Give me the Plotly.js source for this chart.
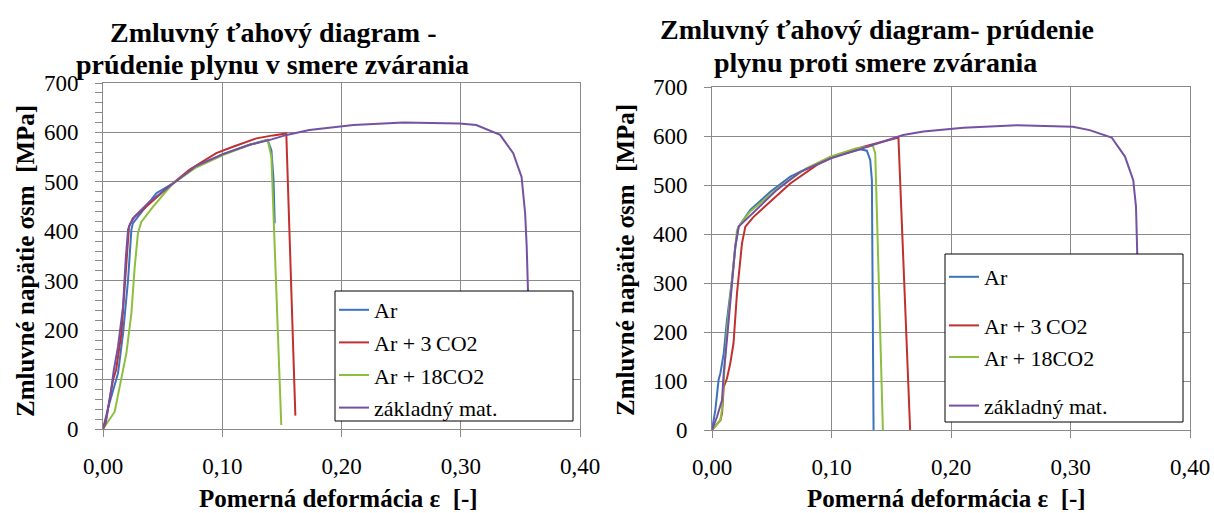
<!DOCTYPE html>
<html>
<head>
<meta charset="utf-8">
<script src="https://cdn.plot.ly/plotly-3.0.1.min.js"></script>
<style>html,body{margin:0;padding:0;background:#fff;}#chart{width:1214px;height:513px;}</style>
</head>
<body>
<div id="chart"></div>
<script>
// ---- data ----
const seriesNames = ["Ar", "Ar + 3\u2009CO2", "Ar + 18CO2", "základný mat."];
const xTicks = [0, 0.1, 0.2, 0.3, 0.4];
const yTicks = [0, 100, 200, 300, 400, 500, 600, 700];

// Left chart: prúdenie plynu v smere zvárania
const L_ar_x = [0, 0.0042, 0.0126, 0.0168, 0.021, 0.0238, 0.025, 0.0447, 0.0587, 0.078, 0.1006, 0.123, 0.138, 0.1412, 0.143, 0.144];
const L_ar_y = [0, 42, 113, 193, 301, 403, 416, 477, 497, 532, 556, 575, 585, 564, 504, 416];
const L_co3_x = [0, 0.0028, 0.0084, 0.011, 0.0154, 0.0196, 0.0218, 0.025, 0.039, 0.056, 0.0727, 0.095, 0.109, 0.1286, 0.1426, 0.1537, 0.1613];
const L_co3_y = [0, 22, 99, 120, 193, 328, 409, 426, 456, 492, 525, 558, 571, 588, 594, 598, 27];
const L_co18_x = [0, 0.0098, 0.0196, 0.0238, 0.0266, 0.0293, 0.0321, 0.0363, 0.042, 0.0587, 0.078, 0.1006, 0.123, 0.138, 0.1412, 0.1495];
const L_co18_y = [0, 35, 153, 234, 328, 396, 419, 433, 450, 497, 529, 554, 575, 585, 551, 8];
const L_base_x = [0, 0.0022, 0.007, 0.009, 0.0126, 0.0168, 0.019, 0.021, 0.0224, 0.0266, 0.039, 0.0587, 0.078, 0.1006, 0.123, 0.14, 0.154, 0.173, 0.21, 0.252, 0.299, 0.313, 0.333, 0.344, 0.351, 0.354, 0.3553, 0.3564, 0.357];
const L_base_y = [0, 11, 82, 118, 167, 247, 342, 403, 413, 430, 460, 497, 532, 556, 575, 585, 595, 605, 615, 620, 618, 615, 595, 558, 510, 436, 369, 278, 230];

// Right chart: prúdenie plynu proti smere zvárania
const R_ar_x = [0, 0.0028, 0.0055, 0.007, 0.0098, 0.0125, 0.0167, 0.0195, 0.0223, 0.0265, 0.032, 0.0488, 0.0655, 0.099, 0.124, 0.1296, 0.1324, 0.1338, 0.1352];
const R_ar_y = [0, 41, 102, 116, 156, 224, 306, 374, 415, 429, 449, 486, 517, 556, 573, 570, 551, 510, 0];
const R_co3_x = [0, 0.007, 0.0084, 0.0092, 0.0098, 0.0125, 0.0153, 0.018, 0.0209, 0.0251, 0.0279, 0.0348, 0.0488, 0.0655, 0.0878, 0.1045, 0.1268, 0.1435, 0.156, 0.1658];
const R_co3_y = [0, 20, 34, 68, 88, 105, 136, 177, 279, 381, 415, 435, 466, 503, 541, 561, 578, 588, 597, 0];
const R_co18_x = [0, 0.007, 0.0083, 0.0097, 0.0125, 0.0167, 0.0209, 0.0251, 0.032, 0.057, 0.079, 0.099, 0.121, 0.1346, 0.1366, 0.143];
const R_co18_y = [0, 20, 41, 96, 204, 306, 408, 425, 446, 497, 534, 558, 575, 580, 565, 0];
const R_base_x = [0, 0.0042, 0.0084, 0.0098, 0.0125, 0.0167, 0.0195, 0.0223, 0.0265, 0.0376, 0.0543, 0.0739, 0.099, 0.121, 0.1435, 0.16, 0.177, 0.2104, 0.255, 0.302, 0.316, 0.3344, 0.3456, 0.3525, 0.3548, 0.3559, 0.3565];
const R_base_y = [0, 27, 61, 116, 184, 293, 374, 415, 425, 452, 490, 527, 554, 571, 588, 602, 609, 617, 622, 619, 612, 597, 558, 510, 456, 361, 300];

const colors = ["#3D72BC", "#C0302E", "#8DBF3F", "#7451A3"];

// ---- helpers ----
const W = 1214, H = 513;
const px = v => v / W;
const py = v => 1 - v / H;
const SERIF = "Times New Roman, Liberation Serif, DejaVu Serif, Noto Serif, serif";
const GRID = "#8a8a8a";

function tr(x, y, i, xa, ya, leg, grp) {
  return {x: x, y: y, type: "scatter", mode: "lines", name: seriesNames[i],
          line: {color: colors[i], width: 2}, xaxis: xa, yaxis: ya,
          legend: leg, legendgroup: grp, hoverinfo: "x+y"};
}

const data = [
  tr(L_ar_x, L_ar_y, 0, "x", "y", "legend", "l0"),
  tr(L_co3_x, L_co3_y, 1, "x", "y", "legend", "l1"),
  tr(L_co18_x, L_co18_y, 2, "x", "y", "legend", "l2"),
  tr(L_base_x, L_base_y, 3, "x", "y", "legend", "l3"),
  tr(R_ar_x, R_ar_y, 0, "x2", "y2", "legend2", "r0"),
  tr(R_co3_x, R_co3_y, 1, "x2", "y2", "legend2", "r1"),
  tr(R_co18_x, R_co18_y, 2, "x2", "y2", "legend2", "r1"),
  tr(R_base_x, R_base_y, 3, "x2", "y2", "legend2", "r2")
];

function xax(dom, anchor) {
  return {domain: dom, anchor: anchor, range: [0, 0.4], tickvals: xTicks, tickformat: ".2f",
          showgrid: true, gridcolor: GRID, gridwidth: 1, zeroline: false,
          showline: true, linecolor: GRID, linewidth: 1, mirror: true,
          ticks: "outside", ticklen: 7, tickcolor: GRID, ticklabelstandoff: 9,
          tickfont: {family: SERIF, size: 23, color: "#000"}, fixedrange: true};
}
function yax(dom, anchor, minor) {
  const a = {domain: dom, anchor: anchor, range: [0, 700], tickvals: yTicks,
          showgrid: true, gridcolor: GRID, gridwidth: 1, zeroline: false,
          showline: true, linecolor: GRID, linewidth: 1, mirror: true,
          ticks: "outside", ticklen: 7, tickcolor: GRID, ticklabelstandoff: 12,
          tickfont: {family: SERIF, size: 23, color: "#000"}, fixedrange: true};
  if (minor) a.minor = {dtick: 20, ticks: "outside", ticklen: 7, tickcolor: GRID, showgrid: false};
  return a;
}

const titleFont = {family: SERIF, size: 28, color: "#000", weight: "bold"};
const axTitleFont = {family: SERIF, size: 25, color: "#000", weight: "bold"};
function ann(text, x, y, font, extra) {
  return Object.assign({text: text, x: px(x), y: py(y), xref: "paper", yref: "paper",
          xanchor: "center", yanchor: "middle", showarrow: false, font: font}, extra || {});
}

const layout = {
  width: W, height: H,
  margin: {l: 0, r: 0, t: 0, b: 0},
  paper_bgcolor: "#fff", plot_bgcolor: "#fff",
  separators: ", ",
  font: {family: SERIF},
  xaxis: xax([px(103), px(580)], "y"),
  yaxis: yax([py(429), py(83)], "x", true),
  xaxis2: xax([px(712), px(1190)], "y2"),
  yaxis2: yax([py(430), py(87)], "x2", false),
  legend: {x: px(334), y: py(289), xanchor: "left", yanchor: "top",
           bgcolor: "rgba(0,0,0,0)", borderwidth: 0, tracegroupgap: 1,
           font: {family: SERIF, size: 22, color: "#000"}},
  legend2: {x: px(944), y: py(256), xanchor: "left", yanchor: "top",
           bgcolor: "rgba(0,0,0,0)", borderwidth: 0, tracegroupgap: 17,
           font: {family: SERIF, size: 22, color: "#000"}},
  shapes: [
    {type: "rect", xref: "paper", yref: "paper", x0: px(335), x1: px(573), y0: py(421), y1: py(291),
     fillcolor: "#fff", line: {color: "#000", width: 1}, layer: "above"},
    {type: "rect", xref: "paper", yref: "paper", x0: px(945), x1: px(1183), y0: py(422), y1: py(254),
     fillcolor: "#fff", line: {color: "#000", width: 1}, layer: "above"}
  ],
  annotations: [
    ann("Zmluvný ťahový diagram -", 273, 32, titleFont),
    ann("prúdenie plynu v smere zvárania", 272, 64, titleFont),
    ann("Zmluvný ťahový diagram- prúdenie", 877, 29, titleFont),
    ann("plynu proti smere zvárania", 875, 63, titleFont),
    ann("Zmluvné napätie σsm  [MPa]", 25, 261, axTitleFont, {textangle: -90}),
    ann("Zmluvné napätie σsm  [MPa]", 625, 260, axTitleFont, {textangle: -90}),
    ann("Pomerná deformácia ε  [-]", 338, 498, axTitleFont),
    ann("Pomerná deformácia ε  [-]", 946, 498, axTitleFont)
  ],
  showlegend: true
};

Plotly.newPlot("chart", data, layout, {displayModeBar: false, staticPlot: true});
</script>
</body>
</html>
